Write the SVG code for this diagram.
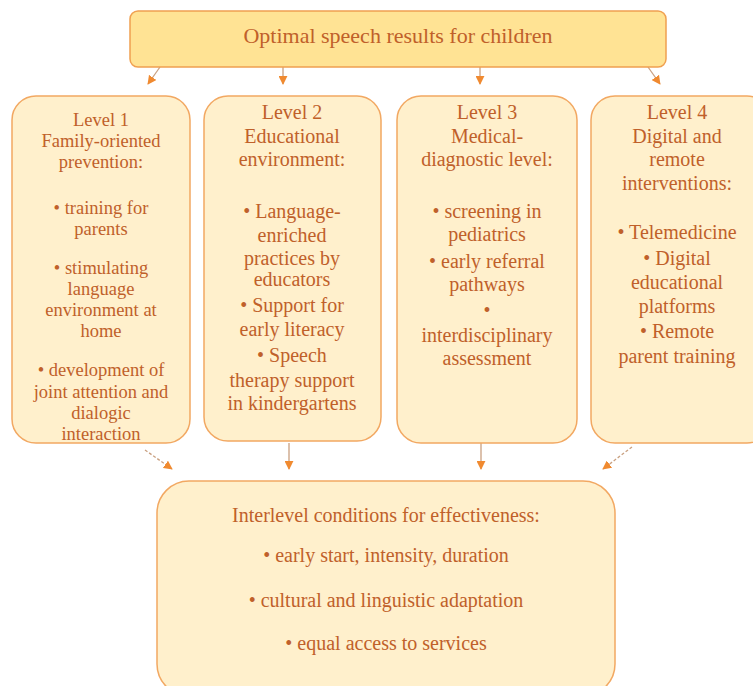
<svg xmlns="http://www.w3.org/2000/svg" width="753" height="686" viewBox="0 0 753 686">
<style>
.box{fill:#FFF0CC;stroke:#F2A862;stroke-width:1.5}
.top{fill:#FFE394;stroke:#F0A050;stroke-width:1.5}
text{font-family:"Liberation Serif","Times New Roman",serif;fill:#C0602A;text-anchor:middle}
.t15{font-size:18.5px}
.t17{font-size:20px}
.t19{font-size:22px}
.conn{stroke:#C9A080;stroke-width:1.3;fill:none}
.dash{stroke-dasharray:3,2}
</style>
<defs>
<marker id="ah" viewBox="0 0 10 10" refX="9" refY="5" markerWidth="9" markerHeight="9" markerUnits="userSpaceOnUse" orient="auto">
<path d="M0,0 L10,5 L0,10 z" fill="#F08A30"/>
</marker>
</defs>
<rect width="753" height="686" fill="#FFFFFF"/>
<g id="connectors">
<line class="conn" x1="160" y1="67" x2="148" y2="84" marker-end="url(#ah)"/>
<line class="conn" x1="283" y1="67" x2="283" y2="84" marker-end="url(#ah)"/>
<line class="conn" x1="480" y1="67" x2="480" y2="84" marker-end="url(#ah)"/>
<line class="conn" x1="648" y1="67" x2="660" y2="84" marker-end="url(#ah)"/>
<line class="conn dash" x1="145" y1="450" x2="172" y2="469" marker-end="url(#ah)"/>
<line class="conn" x1="289" y1="443" x2="289" y2="469" marker-end="url(#ah)"/>
<line class="conn" x1="481" y1="443" x2="481" y2="469" marker-end="url(#ah)"/>
<line class="conn dash" x1="632" y1="447" x2="603" y2="469" marker-end="url(#ah)"/>
</g>
<g id="top">
<rect class="top" x="130" y="11" width="536" height="56" rx="8"/>
<text class="t19" x="398" y="43">Optimal speech results for children</text>
</g>
<g id="level1">
<rect class="box" x="12" y="96" width="178" height="347" rx="24"/>
<text class="t15" x="101" y="126">Level 1</text>
<text class="t15" x="101" y="147">Family-oriented</text>
<text class="t15" x="101" y="168">prevention:</text>
<text class="t15" x="101" y="214">• training for</text>
<text class="t15" x="101" y="235">parents</text>
<text class="t15" x="101" y="274">• stimulating</text>
<text class="t15" x="101" y="295">language</text>
<text class="t15" x="101" y="316">environment at</text>
<text class="t15" x="101" y="337">home</text>
<text class="t15" x="101" y="376">• development of</text>
<text class="t15" x="101" y="398">joint attention and</text>
<text class="t15" x="101" y="419">dialogic</text>
<text class="t15" x="101" y="440">interaction</text>
</g>
<g id="level2">
<rect class="box" x="204" y="96" width="177" height="345" rx="24"/>
<text class="t17" x="292" y="119">Level 2</text>
<text class="t17" x="292" y="143">Educational</text>
<text class="t17" x="292" y="166">environment:</text>
<text class="t17" x="292" y="218">• Language-</text>
<text class="t17" x="292" y="242">enriched</text>
<text class="t17" x="292" y="265">practices by</text>
<text class="t17" x="292" y="286">educators</text>
<text class="t17" x="292" y="312">• Support for</text>
<text class="t17" x="292" y="336">early literacy</text>
<text class="t17" x="292" y="362">• Speech</text>
<text class="t17" x="292" y="387">therapy support</text>
<text class="t17" x="292" y="410">in kindergartens</text>
</g>
<g id="level3">
<rect class="box" x="397" y="96" width="180" height="347" rx="24"/>
<text class="t17" x="487" y="119">Level 3</text>
<text class="t17" x="487" y="143">Medical-</text>
<text class="t17" x="487" y="166">diagnostic level:</text>
<text class="t17" x="487" y="218">• screening in</text>
<text class="t17" x="487" y="241">pediatrics</text>
<text class="t17" x="487" y="268">• early referral</text>
<text class="t17" x="487" y="291">pathways</text>
<text class="t17" x="487" y="317">•</text>
<text class="t17" x="487" y="342">interdisciplinary</text>
<text class="t17" x="487" y="365">assessment</text>
</g>
<g id="level4">
<rect class="box" x="591" y="96" width="180" height="347" rx="24"/>
<text class="t17" x="677" y="119">Level 4</text>
<text class="t17" x="677" y="143">Digital and</text>
<text class="t17" x="677" y="166">remote</text>
<text class="t17" x="677" y="190">interventions:</text>
<text class="t17" x="677" y="239">• Telemedicine</text>
<text class="t17" x="677" y="265">• Digital</text>
<text class="t17" x="677" y="289">educational</text>
<text class="t17" x="677" y="313">platforms</text>
<text class="t17" x="677" y="338">• Remote</text>
<text class="t17" x="677" y="363">parent training</text>
</g>
<g id="conditions">
<rect class="box" x="157" y="481" width="458" height="215" rx="32"/>
<text class="t17" x="386" y="522">Interlevel conditions for effectiveness:</text>
<text class="t17" x="386" y="562">• early start, intensity, duration</text>
<text class="t17" x="386" y="607">• cultural and linguistic adaptation</text>
<text class="t17" x="386" y="650">• equal access to services</text>
</g>
</svg>
